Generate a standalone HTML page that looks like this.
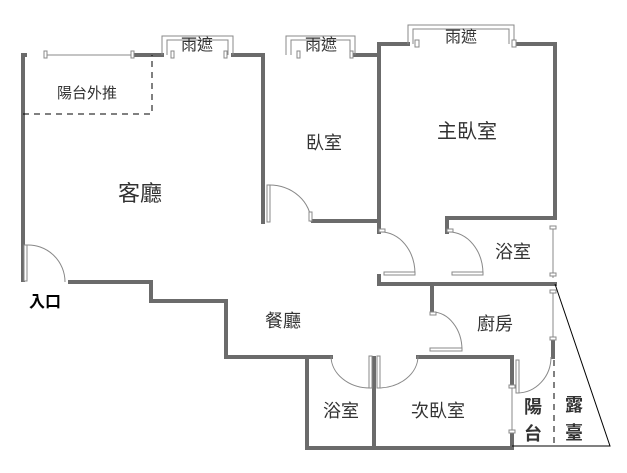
<!DOCTYPE html>
<html><head><meta charset="utf-8"><style>
html,body{margin:0;padding:0;background:#fff;width:627px;height:473px;overflow:hidden}
text{font-family:"Liberation Sans","Noto Sans CJK TC",sans-serif;fill:#333}
</style></head><body>
<svg width="627" height="473" viewBox="0 0 627 473" xmlns="http://www.w3.org/2000/svg">
<g stroke="#6b6b6b" stroke-width="4" fill="none" stroke-linecap="square">
<path d="M23 55 V280"/>
<path d="M23 55 H25"/>
<path d="M135 55 H162"/>
<path d="M233 55 H263 V222"/>
<path d="M355 55 H379"/>
<path d="M70 282 H151 V301 H226 V357 H331"/>
<path d="M313 221 H379"/>
<path d="M379 44 V232"/>
<path d="M379 44 H408"/>
<path d="M514 44 H555 V218"/>
<path d="M447 232 V218 H555"/>
<path d="M379 276 V284 H555"/>
<path d="M432 284 V312"/>
<path d="M418 357 H512 V385"/>
<path d="M512 432 V448 H307 V357"/>
<path d="M374 358 V448"/>
<path d="M553 340 V357"/>
</g>
<g stroke="#888" stroke-width="1" fill="none">
<path d="M45 55 H132"/>
<path d="M162 55 V36 H233 V55 M167 55 V40 H228 V55"/>
<path d="M286 55 V36 H355 V55 M291 55 V40 H350 V55"/>
<path d="M408 44 V25 H514 V44 M413 44 V29 H509 V44"/>
<path d="M553 228 V278"/>
<path d="M553 290 V340"/>
<path d="M512 385 V432"/>
<path d="M26 245 A37 37 0 0 1 65 282"/>
<path d="M269 185 A42 37 0 0 1 311 222"/>
<path d="M381 232 A34 42 0 0 1 415 274"/>
<path d="M449 232 A34 42 0 0 1 483 274"/>
<path d="M432 312 A30 38 0 0 1 462 350"/>
<path d="M331 356 A39 32 0 0 0 370 388"/>
<path d="M418 356 A40 32 0 0 1 378 388"/>
<path d="M551 357 A34 36 0 0 1 517 393"/>
</g>
<g fill="#fff" stroke="#888" stroke-width="1">
<rect x="24" y="245" width="3" height="36"/>
<rect x="44" y="51" width="3" height="7"/><rect x="131" y="51" width="3" height="7"/>
<rect x="171" y="51" width="3" height="7"/><rect x="224" y="51" width="3" height="7"/>
<rect x="297" y="51" width="3" height="7"/><rect x="350" y="51" width="3" height="7"/>
<rect x="415" y="40" width="4" height="7"/><rect x="512" y="40" width="4" height="7"/>
<rect x="267" y="185" width="3" height="37"/><rect x="309" y="212" width="3" height="9"/>
<rect x="384" y="272" width="31" height="3"/><rect x="379" y="229" width="6" height="3"/>
<rect x="452" y="272" width="31" height="3"/><rect x="447" y="229" width="6" height="3"/>
<rect x="430" y="348" width="32" height="3"/><rect x="430" y="312" width="6" height="3"/>
<rect x="369" y="356" width="3" height="32"/><rect x="377" y="356" width="3" height="32"/>
<rect x="516" y="360" width="3" height="33"/>
<rect x="550" y="226" width="6" height="3"/><rect x="550" y="273" width="6" height="3"/>
<rect x="550" y="290" width="6" height="3"/><rect x="550" y="337" width="6" height="3"/>
<rect x="509" y="385" width="6" height="3"/><rect x="509" y="430" width="6" height="3"/>
</g>
<g stroke="#000" stroke-width="1" fill="none">
<path d="M23 114 H152 V55" stroke-dasharray="6,5"/>
<path d="M554 360 V448" stroke-dasharray="6,5"/>
<path d="M555 284 L610 446 H512"/>
</g>
<g font-size="16" text-anchor="middle">
<text x="197" y="50">雨遮</text>
<text x="321" y="50">雨遮</text>
<text x="461" y="42">雨遮</text>
<text x="87" y="98" font-size="15">陽台外推</text>
<text x="140" y="201" font-size="22">客廳</text>
<text x="324" y="149" font-size="18">臥室</text>
<text x="467" y="138" font-size="20">主臥室</text>
<text x="513" y="258" font-size="18">浴室</text>
<text x="283" y="327" font-size="18">餐廳</text>
<text x="495" y="330" font-size="18">廚房</text>
<text x="341" y="417" font-size="18">浴室</text>
<text x="438" y="417" font-size="18">次臥室</text>
<text x="533" y="413" font-size="18" font-weight="bold">陽</text>
<text x="533" y="440" font-size="18" font-weight="bold">台</text>
<text x="574" y="411" font-size="18" font-weight="bold">露</text>
<text x="574" y="439" font-size="18" font-weight="bold">臺</text>
<text x="45" y="307" font-weight="bold" style="fill:#000">入口</text>
</g>
</svg>
</body></html>
